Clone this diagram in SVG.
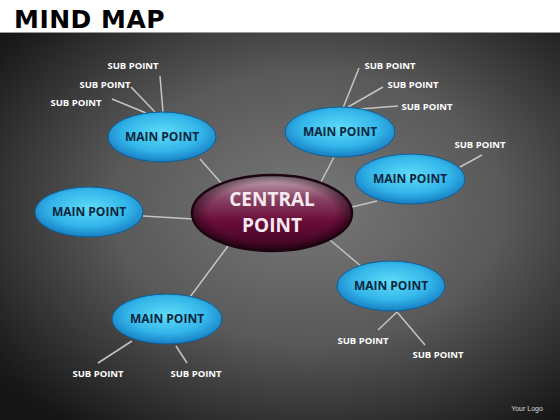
<svg xmlns="http://www.w3.org/2000/svg" width="560" height="420" viewBox="0 0 560 420">
<defs>
<radialGradient id="bg" cx="0.55" cy="0.45" r="0.7">
<stop offset="0" stop-color="#787878"/>
<stop offset="0.5" stop-color="#595959"/>
<stop offset="1" stop-color="#161616"/>
</radialGradient>
<radialGradient id="blue" cx="0.5" cy="0.42" r="0.6">
<stop offset="0" stop-color="#5fdcf8"/>
<stop offset="0.6" stop-color="#33b6ea"/>
<stop offset="1" stop-color="#1479c0"/>
</radialGradient>
<linearGradient id="maroon" x1="0" y1="0" x2="0" y2="1">
<stop offset="0" stop-color="#c8b4be"/>
<stop offset="0.3" stop-color="#8a4666"/>
<stop offset="0.6" stop-color="#6a0c3a"/>
<stop offset="1" stop-color="#3e0520"/>
</linearGradient>
<radialGradient id="maroonEdge" cx="0.5" cy="0.5" r="0.5">
<stop offset="0.8" stop-color="#000" stop-opacity="0"/>
<stop offset="1" stop-color="#000" stop-opacity="0.45"/>
</radialGradient>
</defs>
<style>
.con line{stroke:#c4c4c4;stroke-width:1.5;fill:none}
.main ellipse{fill:url(#blue);stroke:#0f5f96;stroke-width:1}
.mt{font-family:"Open Sans","Liberation Sans",sans-serif;font-weight:bold;font-size:12px;fill:#0b2640;text-anchor:middle}
.st{font-family:"Open Sans","Liberation Sans",sans-serif;font-weight:bold;font-size:9.5px;fill:#ffffff;text-anchor:middle}
.ct{font-family:"Open Sans","Liberation Sans",sans-serif;font-weight:bold;font-size:19px;fill:#f6eaf0;text-anchor:middle}
</style>
<rect x="0" y="0" width="560" height="420" fill="#ffffff"/>
<rect x="0" y="33" width="560" height="387" fill="url(#bg)"/>
<line x1="0" y1="32.5" x2="560" y2="32.5" stroke="#9a9a9a" stroke-width="1"/>
<text x="14" y="28" font-family="'DejaVu Sans','Liberation Sans',sans-serif" font-weight="900" font-size="25" fill="#000" style="font-weight:bold" letter-spacing="0.5">MIND MAP</text>
<text x="527" y="411" font-family="'Liberation Sans',sans-serif" font-size="7" fill="#dddddd" text-anchor="middle">Your Logo</text>

<g id="connectors" class="con">
<line x1="222" y1="184" x2="200" y2="159"/>
<line x1="320" y1="184" x2="334" y2="157"/>
<line x1="352" y1="207" x2="377" y2="201"/>
<line x1="143" y1="216" x2="193" y2="219"/>
<line x1="330" y1="240" x2="362" y2="267"/>
<line x1="228" y1="246" x2="190" y2="297"/>
<line x1="112" y1="99" x2="146" y2="113"/>
<line x1="131" y1="87" x2="155" y2="112"/>
<line x1="160" y1="76" x2="163" y2="112"/>
<line x1="359" y1="68" x2="343" y2="108"/>
<line x1="383" y1="87" x2="348" y2="107"/>
<line x1="398" y1="106" x2="360" y2="109"/>
<line x1="482" y1="155" x2="460" y2="167"/>
<line x1="397" y1="312" x2="378" y2="330"/>
<line x1="397" y1="312" x2="425" y2="345"/>
<line x1="132" y1="341" x2="98" y2="363"/>
<line x1="176" y1="346" x2="187" y2="363"/>
</g>

<g id="central">
<ellipse cx="272" cy="213" rx="80" ry="38" fill="url(#maroon)" stroke="#1e0410" stroke-width="2.5"/>
<ellipse cx="272" cy="213" rx="79" ry="37" fill="url(#maroonEdge)"/>
<text class="ct" x="272" y="206">CENTRAL</text>
<text class="ct" x="272" y="232">POINT</text>
</g>

<g id="main1" class="main"><ellipse cx="162" cy="137" rx="54" ry="25"/><text class="mt" x="162" y="141">MAIN POINT</text></g>
<g id="main2" class="main"><ellipse cx="340" cy="132" rx="55" ry="25"/><text class="mt" x="340" y="136">MAIN POINT</text></g>
<g id="main3" class="main"><ellipse cx="410" cy="179" rx="55" ry="25"/><text class="mt" x="410" y="183">MAIN POINT</text></g>
<g id="main4" class="main"><ellipse cx="89" cy="212" rx="54" ry="25"/><text class="mt" x="89" y="216">MAIN POINT</text></g>
<g id="main5" class="main"><ellipse cx="391" cy="286" rx="54" ry="25"/><text class="mt" x="391" y="290">MAIN POINT</text></g>
<g id="main6" class="main"><ellipse cx="167" cy="319" rx="55" ry="25"/><text class="mt" x="167" y="323">MAIN POINT</text></g>

<g id="subs">
<text class="st" x="133" y="69">SUB POINT</text>
<text class="st" x="105" y="88">SUB POINT</text>
<text class="st" x="76" y="106">SUB POINT</text>
<text class="st" x="390" y="69">SUB POINT</text>
<text class="st" x="413" y="88">SUB POINT</text>
<text class="st" x="427" y="110">SUB POINT</text>
<text class="st" x="480" y="148">SUB POINT</text>
<text class="st" x="363" y="344">SUB POINT</text>
<text class="st" x="438" y="358">SUB POINT</text>
<text class="st" x="98" y="377">SUB POINT</text>
<text class="st" x="196" y="377">SUB POINT</text>
</g>
</svg>
